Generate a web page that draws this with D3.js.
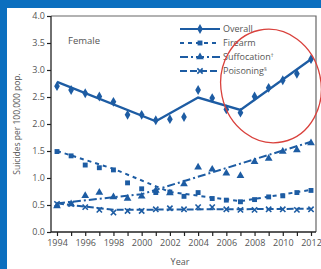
<!DOCTYPE html>
<html>
<head>
<meta charset="utf-8">
<script src="https://cdn.jsdelivr.net/npm/d3@7"></script>
<style>
  body { margin: 0; background: #0b6fbf; }
  svg { display: block; }
  text { font-family: "Open Sans", sans-serif; fill: #555; }
</style>
</head>
<body>
<div id="my_dataviz"></div>
<script>
// data
var years = d3.range(1994, 2013);
var overall     = [2.70, 2.63, 2.57, 2.51, 2.41, 2.17, 2.17, 2.07, 2.09, 2.13, 2.63, 2.48, 2.27, 2.21, 2.51, 2.67, 2.81, 2.93, 3.20];
var firearm     = [1.49, 1.41, 1.24, 1.19, 1.15, 0.91, 0.80, 0.73, 0.74, 0.66, 0.73, 0.62, 0.59, 0.56, 0.60, 0.65, 0.67, 0.73, 0.77];
var suffocation = [0.48, 0.52, 0.67, 0.73, 0.65, 0.62, 0.66, 0.77, 0.72, 0.89, 1.20, 1.16, 1.09, 1.04, 1.30, 1.36, 1.49, 1.52, 1.65];
var poisoning   = [0.52, 0.52, 0.46, 0.41, 0.36, 0.39, 0.39, 0.42, 0.44, 0.42, 0.46, 0.46, 0.42, 0.41, 0.41, 0.42, 0.42, 0.41, 0.42];

// trend (joinpoint) lines
var overallTrend     = [[1994, 2.78], [2001, 2.05], [2004, 2.49], [2007, 2.26], [2012, 3.20]];
var firearmTrend     = [[1994, 1.50], [1998, 1.17], [2002, 0.74], [2007, 0.57], [2012, 0.78]];
var suffocationTrend = [[1994, 0.53], [2000, 0.70], [2012, 1.67]];
var poisoningTrend   = [[1994, 0.53], [1998, 0.41], [2012, 0.43]];

var seriesNames = ["Overall", "Firearm", "Suffocation", "Poisoning"];
var seriesNotes = ["", "", "\u2020", "\u00a7"];
var yTicks = [0, 0.5, 1, 1.5, 2, 2.5, 3, 3.5, 4];
var xLabelYears = d3.range(1994, 2013, 2);

var W = 321, H = 269;
var margin = {top: 16, right: 5, bottom: 37, left: 51};
var width = 316 - margin.left,
    height = 232 - margin.top;

var blue = "#1d5ca3";

var root = d3.select("#my_dataviz").append("svg")
    .attr("width", W).attr("height", H);

// white card
root.append("rect").attr("x", 7).attr("y", 8).attr("width", W - 7).attr("height", H - 8).attr("fill", "#fff");

var svg = root.append("g").attr("transform", "translate(" + margin.left + "," + margin.top + ")");

var x = d3.scaleLinear().domain([1994, 2012]).range([6, 260]);
var y = d3.scaleLinear().domain([0, 4]).range([height, 0]);

// frame top/right
svg.append("path")
    .attr("d", "M0,0H" + width + "V" + height)
    .attr("fill", "none").attr("stroke", "#666").attr("stroke-width", 1.2);

// axes
var yAxis = svg.append("g")
    .call(d3.axisLeft(y).tickValues(yTicks).tickFormat(d3.format(".1f")).tickSize(4).tickPadding(2));
var xAxis = svg.append("g")
    .attr("transform", "translate(0," + height + ")")
    .call(d3.axisBottom(x).tickValues(years).tickSize(4).tickPadding(4)
      .tickFormat(function(d) { return xLabelYears.indexOf(d) >= 0 ? d : ""; }));
[yAxis, xAxis].forEach(function(a) {
  a.select(".domain").attr("stroke", "#222").attr("stroke-width", 1.3);
  a.selectAll(".tick line").attr("stroke", "#222").attr("stroke-width", 1.2);
  a.selectAll("text").style("font-size", "9px").attr("fill", "#666");
});
xAxis.select(".domain").attr("d", "M0,0H" + width);
yAxis.select(".domain").attr("d", "M0," + height + "V0");

// axis titles
svg.append("text")
    .attr("transform", "rotate(-90)")
    .attr("x", -(124 - margin.top))
    .attr("y", 17 - margin.left + 3)
    .attr("text-anchor", "middle")
    .style("font-size", "8.5px")
    .text("Suicides per 100,000 pop.");
svg.append("text")
    .attr("x", 180 - margin.left).attr("y", 265 - margin.top)
    .attr("text-anchor", "middle")
    .style("font-size", "9px")
    .text("Year");

svg.append("text")
    .attr("x", 68 - margin.left).attr("y", 44 - margin.top)
    .style("font-size", "9.5px")
    .text("Female");

var line = d3.line().x(function(d) { return x(d[0]); }).y(function(d) { return y(d[1]); });

var styles = [
  {obs: overall,     trend: overallTrend,     dash: null,      sym: d3.symbolDiamond,  size: 28, stroke: false},
  {obs: firearm,     trend: firearmTrend,     dash: "4,4",     sym: d3.symbolSquare,   size: 24, stroke: false},
  {obs: suffocation, trend: suffocationTrend, dash: "8,3,2,3", sym: d3.symbolTriangle, size: 26, stroke: false},
  {obs: poisoning,   trend: poisoningTrend,   dash: "7,3",     sym: d3.symbolTimes,    size: 20, stroke: true}
];

styles.forEach(function(s, k) {
  svg.append("path")
      .datum(s.trend)
      .attr("d", line)
      .attr("fill", "none")
      .attr("stroke", blue)
      .attr("stroke-width", k === 0 ? 2.3 : 2)
      .attr("stroke-dasharray", s.dash);
  svg.append("g").selectAll("path")
      .data(s.obs)
      .enter().append("path")
      .attr("transform", function(d, i) { return "translate(" + x(years[i]) + "," + y(d) + ")"; })
      .attr("d", d3.symbol().type(s.sym).size(s.size))
      .attr("fill", s.stroke ? "none" : blue)
      .attr("stroke", s.stroke ? blue : "none")
      .attr("stroke-width", 1.6);
});

// legend
var legendY = [29, 43, 57, 71];
var leg = root.append("g");
styles.forEach(function(s, i) {
  var ly = legendY[i];
  leg.append("line")
      .attr("x1", 180).attr("x2", 220).attr("y1", ly).attr("y2", ly)
      .attr("stroke", blue).attr("stroke-width", 2.2)
      .attr("stroke-dasharray", s.dash);
  leg.append("path")
      .attr("transform", "translate(200," + ly + ")")
      .attr("d", d3.symbol().type(s.sym).size(s.size))
      .attr("fill", s.stroke ? "none" : blue)
      .attr("stroke", s.stroke ? blue : "none")
      .attr("stroke-width", 1.6);
  var t = leg.append("text")
      .attr("x", 223).attr("y", ly + 3)
      .style("font-size", "9px")
      .text(seriesNames[i]);
  if (seriesNotes[i]) {
    t.append("tspan").attr("dy", -3).style("font-size", "5.5px").text(seriesNotes[i]);
  }
});

// red highlight ellipse
root.append("ellipse")
    .attr("cx", 271).attr("cy", 86).attr("rx", 50).attr("ry", 57)
    .attr("transform", "rotate(-12,271,86)")
    .attr("fill", "none").attr("stroke", "#d9413c").attr("stroke-width", 1.3);
</script>
</body>
</html>
